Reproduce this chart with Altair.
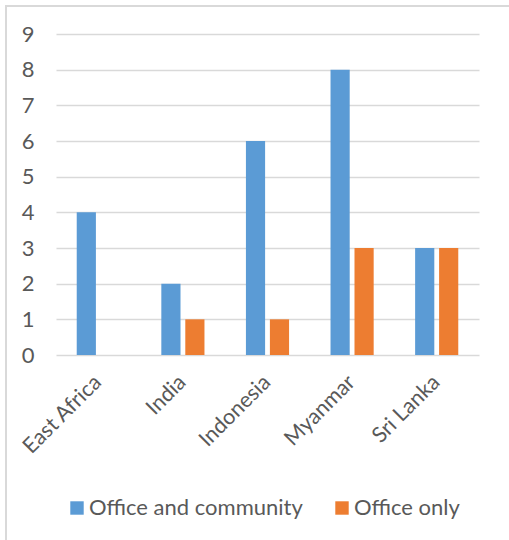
import altair as alt
import pandas as pd

categories = ["East Africa", "India", "Indonesia", "Myanmar", "Sri Lanka"]
office_and_community = [4, 2, 6, 8, 3]
office_only = [0, 1, 1, 3, 3]
series_names = ["Office and community", "Office only"]
y_ticks = [0, 1, 2, 3, 4, 5, 6, 7, 8, 9]

rows = []
for c, a, b in zip(categories, office_and_community, office_only):
    rows.append({"Country": c, "Series": series_names[0], "Value": a})
    rows.append({"Country": c, "Series": series_names[1], "Value": b})
df = pd.DataFrame(rows)

FONT = "Lato"
GREY = "#595959"

bars = alt.Chart(df).mark_bar().encode(
    x=alt.X("Country:N", sort=categories, title=None,
            scale=alt.Scale(paddingInner=0.49, paddingOuter=0.245),
            axis=alt.Axis(labelAngle=-45, labelAlign="right", labelBaseline="middle",
                          labelPadding=24, domain=False, ticks=False,
                          labelFont=FONT, labelFontSize=21.5, labelColor=GREY)),
    xOffset=alt.XOffset("Series:N", sort=series_names,
                        scale=alt.Scale(paddingInner=0.2)),
    y=alt.Y("Value:Q", title=None,
            scale=alt.Scale(domain=[0, 9], nice=False),
            axis=alt.Axis(values=y_ticks, domain=False, ticks=False, labelPadding=22,
                          gridColor="#d9d9d9", gridWidth=1.3,
                          labelFont=FONT, labelFontSize=22, labelColor=GREY)),
    color=alt.Color("Series:N", sort=series_names,
                    scale=alt.Scale(domain=series_names, range=["#5B9BD5", "#ED7D31"]),
                    legend=alt.Legend(title=None, orient="none", direction="horizontal",
                                      legendX=10, legendY=463, padding=0,
                                      symbolType="square", symbolSize=180,
                                      symbolStrokeWidth=0, labelLimit=0,
                                      labelFont=FONT, labelFontSize=22, labelColor=GREY,
                                      labelOffset=1, columnPadding=28)),
)

frame = alt.Chart(pd.DataFrame({"k": [0]})).mark_rect(
    fill=None, stroke="#d9d9d9", strokeWidth=2
).encode(
    x=alt.value(-50), x2=alt.value(480), y=alt.value(-28), y2=alt.value(520)
)

chart = alt.layer(frame, bars).properties(
    width=423, height=321,
    background="white",
    autosize=alt.AutoSizeParams(type="none"),
    padding={"left": 56, "top": 34, "right": 30, "bottom": 185},
).configure_view(stroke=None)

chart.save("out.html", embed_options={"renderer": "svg", "actions": False})
